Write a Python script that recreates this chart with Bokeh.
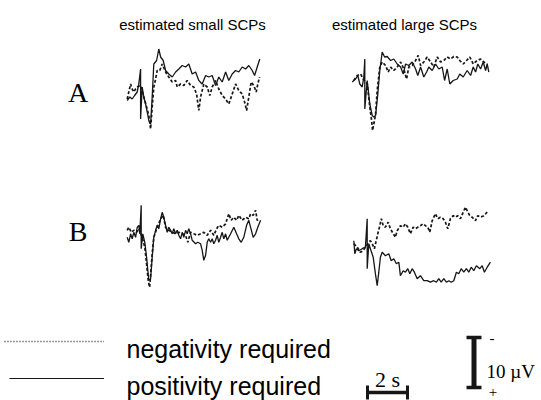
from bokeh.plotting import figure
from bokeh.models import Range1d
from bokeh.core.properties import value
from bokeh.embed import file_html
from bokeh.resources import INLINE

# ---------------- data: (time in s from trace start, potential in µV; negative = up) ----------------
A_SMALL_POS = [(0.00,4.0),(0.13,3.3),(0.25,3.7),(0.37,3.0),(0.50,2.3),(0.58,0.7),(0.67,-2.3),(0.67,7.7),
    (0.75,1.3),(0.83,3.3),(0.92,4.7),(1.00,6.3),(1.08,8.0),(1.17,8.7),(1.25,3.3),(1.33,-3.3),(1.47,-4.0),
    (1.58,-6.3),(1.67,-4.7),(1.80,-4.0),(1.92,-2.0),(2.08,-1.3),(2.25,-0.7),(2.42,-1.7),(2.58,-2.3),
    (2.75,-3.0),(2.92,-2.7),(3.08,-3.3),(3.25,-1.3),(3.42,-1.7),(3.58,0.0),(3.75,0.7),(3.92,-1.0),
    (4.08,-0.7),(4.25,-1.0),(4.42,1.0),(4.58,-0.7),(4.75,0.3),(4.92,-1.7),(5.08,0.0),(5.25,-1.3),
    (5.42,-2.0),(5.58,-1.7),(5.75,-2.7),(5.92,-2.3),(6.08,-3.0),(6.25,-2.0),(6.37,-1.0),(6.50,-2.7),(6.63,-4.3)]
A_SMALL_NEG = [(0.00,3.7),(0.08,2.3),(0.17,0.7),(0.25,1.7),(0.33,2.3),(0.42,1.7),(0.50,1.3),(0.67,1.0),
    (0.83,3.3),(0.97,5.3),(1.08,7.0),(1.17,9.7),(1.25,5.3),(1.33,1.3),(1.42,-0.3),(1.50,-2.0),(1.63,-2.0),
    (1.75,-3.3),(1.92,-1.7),(2.08,-0.7),(2.25,0.3),(2.42,0.0),(2.50,1.3),(2.67,0.7),(2.83,1.0),(3.00,0.0),
    (3.17,1.0),(3.33,1.3),(3.47,2.7),(3.58,6.0),(3.67,3.3),(3.83,0.7),(4.00,1.3),(4.13,3.0),(4.25,1.3),
    (4.42,0.0),(4.58,1.7),(4.75,3.0),(4.92,3.7),(5.08,4.7),(5.25,2.7),(5.42,0.7),(5.58,2.0),(5.75,2.7),
    (5.87,4.3),(5.97,6.0),(6.08,3.3),(6.20,0.3),(6.33,1.0),(6.45,2.3),(6.53,0.7),(6.62,-0.7)]
A_LARGE_POS = [(0.00,0.3),(0.17,-0.3),(0.28,-1.0),(0.38,0.7),(0.50,1.3),(0.58,-0.7),(0.63,-4.3),(0.63,5.7),
    (0.75,0.0),(0.88,4.7),(1.00,7.0),(1.08,7.3),(1.17,7.0),(1.28,2.7),(1.38,-2.0),(1.50,-5.7),(1.62,-4.7),
    (1.75,-4.8),(1.92,-4.0),(2.08,-4.3),(2.25,-3.3),(2.42,-2.7),(2.55,-1.3),(2.67,-3.3),(2.83,-3.0),
    (3.00,-3.7),(3.17,-2.3),(3.28,-1.0),(3.42,-2.7),(3.58,-0.7),(3.72,-1.7),(3.83,-2.7),(4.00,-2.0),
    (4.17,-3.3),(4.33,-2.3),(4.50,-2.7),(4.62,0.0),(4.75,-2.3),(4.88,0.7),(5.05,0.0),(5.25,-0.3),
    (5.38,-1.3),(5.55,-0.7),(5.75,-2.0),(5.92,-1.0),(6.05,-2.7),(6.17,-1.7),(6.28,-3.3),(6.42,-2.3),
    (6.55,-3.7),(6.67,-2.0),(6.75,-3.3),(6.83,-1.7)]
A_LARGE_NEG = [(0.08,0.0),(0.25,-1.0),(0.42,-1.3),(0.55,-0.3),(0.75,0.7),(0.88,5.3),(0.97,8.0),(1.02,10.0),
    (1.08,8.7),(1.17,6.7),(1.25,2.0),(1.38,-2.7),(1.50,-3.7),(1.67,-3.0),(1.80,-1.7),(1.92,-2.7),(2.08,-2.0),
    (2.25,-2.7),(2.42,-3.7),(2.58,-2.3),(2.72,-0.3),(2.83,-2.7),(3.00,-3.0),(3.17,-4.0),(3.30,-5.0),
    (3.42,-3.0),(3.58,-3.7),(3.75,-4.7),(3.92,-3.7),(4.08,-2.7),(4.25,-4.7),(4.42,-3.7),(4.58,-4.0),
    (4.75,-4.7),(4.92,-4.3),(5.08,-4.8),(5.25,-4.7),(5.38,-4.0),(5.55,-3.3),(5.72,-4.0),(5.88,-4.7),
    (6.05,-3.3),(6.25,-4.0),(6.42,-4.3),(6.58,-3.7),(6.75,-3.3)]
B_SMALL_POS = [(0.00,0.7),(0.08,1.7),(0.17,0.0),(0.25,1.0),(0.33,-0.3),(0.42,0.7),(0.50,-1.3),(0.58,-1.7),
    (0.63,0.0),(0.70,-5.7),(0.70,3.0),(0.78,0.0),(0.88,1.7),(0.97,4.7),(1.03,7.3),(1.08,9.3),(1.17,9.0),
    (1.25,4.7),(1.33,0.7),(1.42,-0.7),(1.50,-1.7),(1.58,-1.0),(1.67,-3.0),(1.75,-4.3),(1.83,-3.3),
    (1.92,-1.7),(2.00,-0.3),(2.08,-1.3),(2.17,-0.7),(2.25,0.0),(2.33,-1.0),(2.42,0.0),(2.50,-0.7),
    (2.58,0.3),(2.67,1.0),(2.75,-0.3),(2.83,0.7),(2.92,-0.7),(3.00,0.0),(3.08,-1.0),(3.17,0.0),(3.25,1.3),
    (3.42,2.0),(3.53,1.7),(3.67,2.0),(3.75,3.3),(3.83,5.3),(3.92,4.3),(4.00,1.7),(4.08,1.0),(4.17,1.7),
    (4.25,1.0),(4.33,2.0),(4.42,1.3),(4.50,0.3),(4.58,1.7),(4.67,0.7),(4.75,-0.3),(4.83,1.0),(4.92,0.0),
    (5.00,1.3),(5.17,0.0),(5.33,-1.3),(5.47,0.0),(5.58,1.0),(5.70,1.7),(5.83,0.7),(5.97,-1.7),(6.08,-2.7),
    (6.17,-1.3),(6.30,0.7),(6.42,0.0),(6.53,-1.3),(6.67,-2.7)]
B_SMALL_NEG = [(0.00,-0.7),(0.08,-1.3),(0.20,-0.3),(0.33,-0.7),(0.47,-0.3),(0.58,-1.0),(0.75,0.7),(0.88,2.7),
    (0.97,6.0),(1.05,9.3),(1.12,10.7),(1.17,8.3),(1.25,4.0),(1.33,0.7),(1.50,-1.3),(1.67,-3.0),(1.80,-3.7),
    (1.92,-1.3),(2.08,-0.7),(2.25,-0.3),(2.42,0.0),(2.58,-0.3),(2.75,0.0),(2.92,0.3),(3.03,1.7),(3.17,-0.3),
    (3.33,0.0),(3.50,0.3),(3.67,0.0),(3.83,-0.3),(4.00,0.3),(4.17,-0.7),(4.33,0.3),(4.47,-1.0),(4.58,-1.7),
    (4.75,-1.3),(4.92,-2.0),(5.08,-4.0),(5.20,-2.7),(5.33,-3.3),(5.47,-2.7),(5.58,-3.7),(5.75,-2.7),
    (5.92,-3.3),(6.08,-3.0),(6.17,-4.0),(6.30,-3.7),(6.42,-4.7),(6.50,-2.7),(6.62,-3.0)]
B_LARGE_POS = [(0.00,-1.3),(0.05,1.3),(0.13,0.3),(0.25,0.7),(0.42,0.3),(0.58,0.0),(0.67,-5.7),(0.67,4.3),
    (0.75,-0.7),(0.83,0.3),(0.97,2.0),(1.08,5.3),(1.17,7.7),(1.25,5.0),(1.33,2.0),(1.42,1.0),(1.58,1.7),
    (1.75,1.3),(1.87,2.7),(2.00,2.3),(2.13,3.3),(2.25,3.0),(2.33,5.7),(2.47,4.7),(2.58,5.0),(2.70,4.3),
    (2.80,5.3),(2.92,4.3),(3.03,5.0),(3.17,6.3),(3.33,5.7),(3.50,6.7),(3.67,6.7),(3.83,7.0),(4.00,6.7),
    (4.13,7.0),(4.25,6.3),(4.37,7.0),(4.50,6.3),(4.63,7.0),(4.75,6.7),(4.87,7.0),(5.00,6.7),(5.13,5.0),
    (5.25,5.3),(5.37,4.3),(5.50,5.0),(5.63,4.3),(5.75,5.0),(5.87,4.0),(6.00,4.7),(6.13,3.7),(6.30,4.3),
    (6.42,3.7),(6.53,5.0),(6.67,4.0),(6.83,3.0)]
B_LARGE_NEG = [(0.00,-0.7),(0.17,0.0),(0.33,1.0),(0.47,0.7),(0.58,0.0),(0.75,-1.0),(0.83,-1.3),(0.92,-0.7),
    (1.03,0.3),(1.12,-1.3),(1.20,-2.7),(1.28,-4.0),(1.38,-5.7),(1.47,-4.3),(1.58,-4.0),(1.72,-5.0),
    (1.83,-3.7),(1.97,-2.7),(2.08,-2.0),(2.17,-3.3),(2.33,-4.3),(2.47,-4.0),(2.58,-4.7),(2.70,-4.0),
    (2.83,-2.7),(2.97,-4.0),(3.08,-3.7),(3.20,-4.0),(3.33,-4.3),(3.47,-4.7),(3.58,-4.3),(3.70,-4.0),
    (3.80,-3.0),(3.92,-5.3),(4.08,-6.7),(4.20,-5.7),(4.33,-6.0),(4.47,-5.7),(4.58,-5.0),(4.70,-3.7),
    (4.83,-5.7),(4.97,-6.3),(5.08,-6.0),(5.20,-6.3),(5.33,-5.7),(5.47,-7.0),(5.58,-8.0),(5.67,-7.3),
    (5.80,-6.3),(5.92,-6.0),(6.08,-5.3),(6.20,-6.3),(6.33,-6.0),(6.50,-6.3),(6.67,-7.0)]

COLUMN_TITLES = ["estimated small SCPs", "estimated large SCPs"]
ROW_LABELS = ["A", "B"]
LEGEND_LABELS = ["negativity required", "positivity required"]
TIME_BAR_S = 2
VOLT_BAR_UV = 10

# ---------------- layout (page pixels; the page template puts the figure at 0,0) ----------------
PX_PER_S = 20.0
PX_PER_UV = 5.0
W, H = 541, 400
M = 0
INK = "#161616"

def fx(X):
    return (X - M) / PX_PER_S

def fy(Y):
    return (Y - M) / PX_PER_UV

p = figure(width=W, height=H, x_range=Range1d(0, W / PX_PER_S), y_range=Range1d(H / PX_PER_UV, 0),
           output_backend="svg", toolbar_location=None, min_border=0)
p.axis.visible = False
p.grid.visible = False
p.outline_line_color = None
p.background_fill_color = "white"
p.border_fill_color = "white"

panels = [
    (A_SMALL_POS, A_SMALL_NEG, 126.7, 80.0),
    (A_LARGE_POS, A_LARGE_NEG, 351.7, 80.0),
    (B_SMALL_POS, B_SMALL_NEG, 126.7, 233.3),
    (B_LARGE_POS, B_LARGE_NEG, 353.3, 246.7),
]
for pos, neg, X0, Y0 in panels:
    ox, oy = fx(X0), fy(Y0)
    p.line([ox + t for t, v in neg], [oy + v for t, v in neg], line_color=INK, line_width=1.7,
           line_dash="3 2")
    p.line([ox + t for t, v in pos], [oy + v for t, v in pos], line_color=INK, line_width=1.3)

sans = value("Liberation Sans")
serif = value("Liberation Serif")

# column titles
p.text(x=[fx(192), fx(404)], y=[fy(24), fy(24)], text=COLUMN_TITLES, text_font=sans,
       text_font_size=value("15px"), text_align="center", text_baseline="alphabetic", text_color="black")
# row labels
p.text(x=[fx(77.5), fx(77.5)], y=[fy(92), fy(231)], text=ROW_LABELS, text_font=serif,
       text_font_size=value("28px"), text_align="center", text_baseline="middle", text_color="black")

# legend
p.line([fx(4), fx(103.5)], [fy(341), fy(341)], line_color="#333333", line_width=1.3, line_dash="1 2")
p.line([fx(9), fx(103.5)], [fy(378), fy(378)], line_color=INK, line_width=1.2)
p.text(x=[fx(126), fx(126)], y=[fy(348), fy(385)], text=LEGEND_LABELS, text_font=sans,
       text_font_size=value("25px"), text_align="left", text_baseline="alphabetic", text_color="black")

# time scale bar
tx0 = fx(367)
ty = fy(392)
p.segment(x0=[tx0], y0=[ty], x1=[tx0 + TIME_BAR_S], y1=[ty], line_color=INK, line_width=3.5)
p.segment(x0=[tx0, tx0 + TIME_BAR_S], y0=[fy(385), fy(385)], x1=[tx0, tx0 + TIME_BAR_S],
          y1=[fy(399), fy(399)], line_color=INK, line_width=3)
p.text(x=[tx0 + TIME_BAR_S / 2], y=[fy(379)], text=[f"{TIME_BAR_S} s"], text_font=serif,
       text_font_size=value("22px"), text_align="center", text_baseline="alphabetic", text_color="black")

# voltage scale bar
vx = fx(473.5)
vy0 = fy(337)
p.segment(x0=[vx], y0=[vy0], x1=[vx], y1=[vy0 + VOLT_BAR_UV], line_color=INK, line_width=5)
p.segment(x0=[fx(466), fx(466)], y0=[vy0, vy0 + VOLT_BAR_UV], x1=[fx(481), fx(481)],
          y1=[vy0, vy0 + VOLT_BAR_UV], line_color=INK, line_width=3.5)
p.text(x=[fx(486)], y=[fy(371)], text=[f"{VOLT_BAR_UV} µV"], text_font=serif,
       text_font_size=value("19px"), text_align="left", text_baseline="alphabetic", text_color="black")
p.text(x=[fx(491.5), fx(492.5)], y=[fy(337), fy(391)], text=["-", "+"], text_font=serif,
       text_font_size=value("15px"), text_align="center", text_baseline="middle", text_color="black")

open("out.html", "w").write(file_html(p, INLINE))
